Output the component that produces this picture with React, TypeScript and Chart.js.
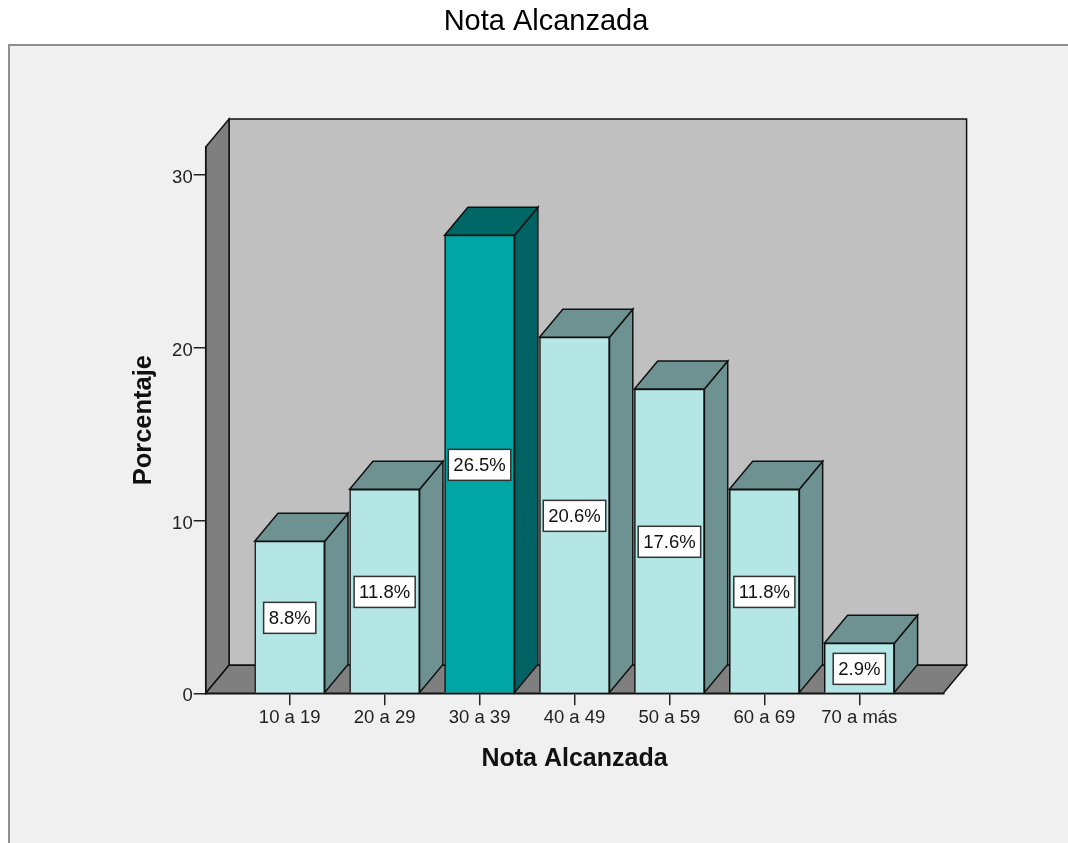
import React, { useEffect, useRef } from "react";
import { Chart, registerables } from "chart.js";

Chart.register(...registerables);

const categories = ["10 a 19", "20 a 29", "30 a 39", "40 a 49", "50 a 59", "60 a 69", "70 a más"];
const percentages = [8.8, 11.8, 26.5, 20.6, 17.6, 11.8, 2.9];
const valueLabels = ["8.8%", "11.8%", "26.5%", "20.6%", "17.6%", "11.8%", "2.9%"];
const yTickValues = [0, 10, 20, 30];
const highlightIndex = 2;

const FONT = "'Liberation Sans', Arial, sans-serif";
const FRONT = "#b4e6e6";
const SHADE = "#6e9191";
const H_FRONT = "#00a6a6";
const H_TOP = "#006767";
const H_SIDE = "#006262";
const DX = 23.3;
const DY = -28;

function poly(ctx: CanvasRenderingContext2D, pts: number[][], fill: string) {
  ctx.beginPath();
  ctx.moveTo(pts[0][0], pts[0][1]);
  for (let i = 1; i < pts.length; i++) ctx.lineTo(pts[i][0], pts[i][1]);
  ctx.closePath();
  ctx.fillStyle = fill;
  ctx.fill();
  ctx.stroke();
}

const box3d = {
  id: "box3d",
  beforeDraw(chart: any) {
    const { ctx, chartArea } = chart;
    const { left, right, top, bottom } = chartArea;
    ctx.save();
    ctx.fillStyle = "#f0f0f0";
    ctx.fillRect(8, 45, 1068 - 8, 843 - 45);
    ctx.strokeStyle = "#8f8f8f";
    ctx.lineWidth = 2;
    ctx.beginPath();
    ctx.moveTo(9, 843);
    ctx.lineTo(9, 45);
    ctx.lineTo(1068, 45);
    ctx.stroke();
    ctx.lineWidth = 1.5;
    ctx.strokeStyle = "#111";
    ctx.lineJoin = "miter";
    poly(ctx, [[left + DX, top + DY], [right + DX, top + DY], [right + DX, bottom + DY], [left + DX, bottom + DY]], "#c0c0c0");
    poly(ctx, [[left, top], [left + DX, top + DY], [left + DX, bottom + DY], [left, bottom]], "#7f7f7f");
    poly(ctx, [[left, bottom], [left + DX, bottom + DY], [right + DX, bottom + DY], [right, bottom]], "#7f7f7f");
    ctx.restore();
  },
  beforeDatasetsDraw(chart: any) {
    const { ctx } = chart;
    const meta = chart.getDatasetMeta(0);
    ctx.save();
    ctx.lineWidth = 1.5;
    ctx.strokeStyle = "#111";
    ctx.lineJoin = "miter";
    meta.data.forEach((el: any, i: number) => {
      const { x, y, base, width } = el.getProps(["x", "y", "base", "width"], true);
      const x0 = x - width / 2;
      const x1 = x + width / 2;
      const hi = i === highlightIndex;
      poly(ctx, [[x1, y], [x1 + DX, y + DY], [x1 + DX, base + DY], [x1, base]], hi ? H_SIDE : SHADE);
      poly(ctx, [[x0, y], [x0 + DX, y + DY], [x1 + DX, y + DY], [x1, y]], hi ? H_TOP : SHADE);
    });
    ctx.restore();
  },
  afterDatasetsDraw(chart: any) {
    const { ctx } = chart;
    const meta = chart.getDatasetMeta(0);
    ctx.save();
    ctx.font = `18.5px ${FONT}`;
    ctx.textAlign = "center";
    ctx.textBaseline = "middle";
    meta.data.forEach((el: any, i: number) => {
      const { x, y, base } = el.getProps(["x", "y", "base"], true);
      const text = valueLabels[i];
      const tw = ctx.measureText(text).width;
      const w = tw + 10;
      const h = 31;
      const cy = (y + base) / 2 + 1;
      ctx.fillStyle = "#ffffff";
      ctx.fillRect(x - w / 2, cy - h / 2, w, h);
      ctx.strokeStyle = "#333";
      ctx.lineWidth = 1.5;
      ctx.strokeRect(x - w / 2, cy - h / 2, w, h);
      ctx.fillStyle = "#111";
      ctx.fillText(text, x, cy + 1);
    });
    ctx.restore();
  },
};

export default function App() {
  const canvasRef = useRef<HTMLCanvasElement | null>(null);

  useEffect(() => {
    if (!canvasRef.current) return;
    const chart = new Chart(canvasRef.current, {
      type: "bar",
      data: {
        datasets: [
          {
            data: percentages.map((v, i) => ({ x: i, y: v })),
            backgroundColor: percentages.map((_, i) => (i === highlightIndex ? H_FRONT : FRONT)),
            borderColor: "#111",
            borderWidth: 1.5,
            barThickness: 70,
          },
        ],
      },
      options: {
        responsive: false,
        animation: false,
        layout: { padding: { left: 148.7, right: 124.7, top: 0, bottom: 69 } },
        plugins: {
          legend: { display: false },
          tooltip: { enabled: false },
          title: {
            display: true,
            text: "Nota Alcanzada",
            font: { family: FONT, size: 29, weight: "normal" },
            color: "#000",
            padding: { top: 5, bottom: 107.2 },
          },
        },
        scales: {
          x: {
            type: "linear",
            min: -0.885,
            max: 6.885,
            offset: false,
            afterBuildTicks: (s: any) => {
              s.ticks = categories.map((_, i) => ({ value: i }));
            },
            afterFit: (s: any) => {
              s.height = 80.7;
            },
            ticks: {
              callback: (v: any) => categories[v as number] ?? "",
              font: { family: FONT, size: 18.5 },
              color: "#222",
              padding: 2,
              maxRotation: 0,
              autoSkip: false,
            },
            grid: { offset: false, drawOnChartArea: false, drawTicks: true, tickLength: 12, color: "#222", lineWidth: 1.5 },
            border: { display: true, color: "#111", width: 1.5 },
            title: {
              display: true,
              text: "Nota Alcanzada",
              font: { family: FONT, size: 25, weight: "bold" },
              color: "#111",
              padding: 0,
            },
          },
          y: {
            min: 0,
            max: 31.6,
            afterBuildTicks: (s: any) => {
              s.ticks = yTickValues.map((v) => ({ value: v }));
            },
            afterFit: (s: any) => {
              s.width = 57;
            },
            ticks: {
              font: { family: FONT, size: 18.5 },
              color: "#222",
              padding: 1,
              labelOffset: 3,
            },
            grid: { drawOnChartArea: false, drawTicks: true, tickLength: 12, color: "#222", lineWidth: 1.5 },
            border: { display: true, color: "#111", width: 1.5 },
            title: {
              display: true,
              text: "Porcentaje",
              font: { family: FONT, size: 25.5, weight: "bold" },
              color: "#111",
              padding: { top: -20.5, bottom: 0 },
            },
          },
        },
      } as any,
      plugins: [box3d],
    });
    return () => chart.destroy();
  }, []);

  return (
    <div style={{ position: "absolute", left: 0, top: 0, width: 1068, height: 843 }}>
      <canvas ref={canvasRef} width={1068} height={843} style={{ display: "block", width: 1068, height: 843 }} />
    </div>
  );
}
